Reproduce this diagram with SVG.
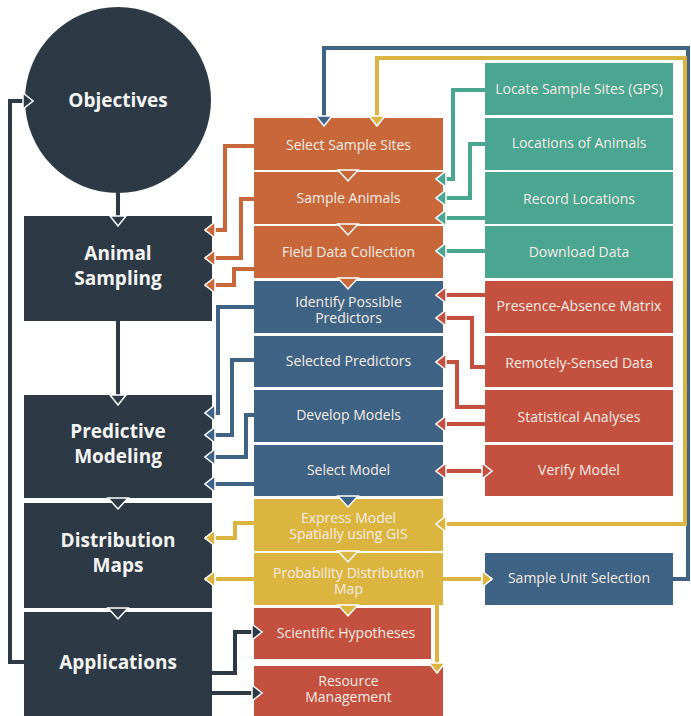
<svg xmlns="http://www.w3.org/2000/svg" width="691" height="716" viewBox="0 0 691 716">
<style>
.dk{fill:#2d3a45}.or{fill:#c8683a}.bl{fill:#3f6385}.gr{fill:#4aa591}.rd{fill:#c4503f}.ye{fill:#dcb540}
.big{font-family:"Open Sans","Noto Sans",sans-serif;font-weight:bold;font-size:19px;fill:#f4f4f2;text-anchor:middle}
.lb{font-family:"Open Sans","Noto Sans",sans-serif;font-size:14px;fill:#f4ede4;text-anchor:middle}
.c{fill:none;stroke-width:4}
.cdk{stroke:#2d3a45}.cor{stroke:#c8683a}.cbl{stroke:#3f6385}.cgr{stroke:#4aa591}.crd{stroke:#c4503f}.cye{stroke:#dcb540}
.chev{stroke:#fff;stroke-width:1.5;stroke-linejoin:miter}
</style>
<defs>
<marker id="mdk" viewBox="0 0 12 18" refX="11" refY="9" markerWidth="12" markerHeight="18" markerUnits="userSpaceOnUse" orient="auto-start-reverse"><path d="M1,1 L11,9 L1,17 Z" fill="#2d3a45" stroke="#fff" stroke-width="1.5"/></marker>
<marker id="mor" viewBox="0 0 12 18" refX="11" refY="9" markerWidth="12" markerHeight="18" markerUnits="userSpaceOnUse" orient="auto-start-reverse"><path d="M1,1 L11,9 L1,17 Z" fill="#c8683a" stroke="#fff" stroke-width="1.5"/></marker>
<marker id="mbl" viewBox="0 0 12 18" refX="11" refY="9" markerWidth="12" markerHeight="18" markerUnits="userSpaceOnUse" orient="auto-start-reverse"><path d="M1,1 L11,9 L1,17 Z" fill="#3f6385" stroke="#fff" stroke-width="1.5"/></marker>
<marker id="mgr" viewBox="0 0 12 18" refX="11" refY="9" markerWidth="12" markerHeight="18" markerUnits="userSpaceOnUse" orient="auto-start-reverse"><path d="M1,1 L11,9 L1,17 Z" fill="#4aa591" stroke="#fff" stroke-width="1.5"/></marker>
<marker id="mrd" viewBox="0 0 12 18" refX="11" refY="9" markerWidth="12" markerHeight="18" markerUnits="userSpaceOnUse" orient="auto-start-reverse"><path d="M1,1 L11,9 L1,17 Z" fill="#c4503f" stroke="#fff" stroke-width="1.5"/></marker>
<marker id="mye" viewBox="0 0 12 18" refX="11" refY="9" markerWidth="12" markerHeight="18" markerUnits="userSpaceOnUse" orient="auto-start-reverse"><path d="M1,1 L11,9 L1,17 Z" fill="#dcb540" stroke="#fff" stroke-width="1.5"/></marker>
</defs>
<rect width="691" height="716" fill="#fff"/>

<!-- left column -->
<g id="objectives"><circle class="dk" cx="118" cy="100" r="93"/><text class="big" x="118" y="107">Objectives</text></g>
<g id="animal-sampling"><rect class="dk" x="24" y="216" width="188" height="105"/><text class="big" x="118" y="260">Animal<tspan x="118" y="285">Sampling</tspan></text></g>
<g id="predictive-modeling"><rect class="dk" x="24" y="395" width="188" height="103"/><text class="big" x="118" y="438">Predictive<tspan x="118" y="463">Modeling</tspan></text></g>
<g id="distribution-maps"><rect class="dk" x="24" y="503" width="188" height="105"/><text class="big" x="118" y="547">Distribution<tspan x="118" y="572">Maps</tspan></text></g>
<g id="applications"><rect class="dk" x="24" y="612" width="188" height="104"/><text class="big" x="118" y="669">Applications</text></g>

<!-- middle column -->
<g id="select-sample-sites"><rect class="or" x="254" y="118" width="189" height="52"/><text class="lb" x="348.5" y="150">Select Sample Sites</text></g>
<g id="sample-animals"><rect class="or" x="254" y="172" width="189" height="52"/><text class="lb" x="348.5" y="203">Sample Animals</text></g>
<g id="field-data-collection"><rect class="or" x="254" y="226" width="189" height="52"/><text class="lb" x="348.5" y="257">Field Data Collection</text></g>
<g id="identify-possible-predictors"><rect class="bl" x="254" y="281" width="189" height="52"/><text class="lb" x="348.5" y="307">Identify Possible<tspan x="348.5" y="323">Predictors</tspan></text></g>
<g id="selected-predictors"><rect class="bl" x="254" y="336" width="189" height="51"/><text class="lb" x="348.5" y="366">Selected Predictors</text></g>
<g id="develop-models"><rect class="bl" x="254" y="390" width="189" height="52"/><text class="lb" x="348.5" y="420">Develop Models</text></g>
<g id="select-model"><rect class="bl" x="254" y="445" width="189" height="51"/><text class="lb" x="348.5" y="475">Select Model</text></g>
<g id="express-model"><rect class="ye" x="254" y="499" width="189" height="52"/><text class="lb" x="348.5" y="523">Express Model<tspan x="348.5" y="539">Spatially using GIS</tspan></text></g>
<g id="probability-distribution-map"><rect class="ye" x="254" y="553" width="189" height="52"/><text class="lb" x="348.5" y="578">Probability Distribution<tspan x="348.5" y="594">Map</tspan></text></g>
<g id="scientific-hypotheses"><rect class="rd" x="254" y="608" width="177" height="51"/><text class="lb" x="346" y="638">Scientific Hypotheses</text></g>
<g id="resource-management"><rect class="rd" x="254" y="666" width="189" height="50"/><text class="lb" x="348.5" y="686">Resource<tspan x="348.5" y="702">Management</tspan></text></g>

<!-- right column -->
<g id="locate-sample-sites"><rect class="gr" x="485" y="63" width="188" height="52"/><text class="lb" x="579" y="94">Locate Sample Sites (GPS)</text></g>
<g id="locations-of-animals"><rect class="gr" x="485" y="118" width="188" height="52"/><text class="lb" x="579" y="148">Locations of Animals</text></g>
<g id="record-locations"><rect class="gr" x="485" y="172" width="188" height="52"/><text class="lb" x="579" y="204">Record Locations</text></g>
<g id="download-data"><rect class="gr" x="485" y="226" width="188" height="52"/><text class="lb" x="579" y="257">Download Data</text></g>
<g id="presence-absence-matrix"><rect class="rd" x="485" y="281" width="188" height="52"/><text class="lb" x="579" y="311">Presence-Absence Matrix</text></g>
<g id="remotely-sensed-data"><rect class="rd" x="485" y="336" width="188" height="51"/><text class="lb" x="579" y="368">Remotely-Sensed Data</text></g>
<g id="statistical-analyses"><rect class="rd" x="485" y="390" width="188" height="52"/><text class="lb" x="579" y="422">Statistical Analyses</text></g>
<g id="verify-model"><rect class="rd" x="485" y="445" width="188" height="51"/><text class="lb" x="579" y="475">Verify Model</text></g>
<g id="sample-unit-selection"><rect class="bl" x="485" y="553" width="188" height="52"/><text class="lb" x="579" y="583">Sample Unit Selection</text></g>

<!-- connectors -->
<g id="connectors">
<path class="c cdk" d="M118,193 V226" marker-end="url(#mdk)"/>
<path class="c cdk" d="M118,321 V405" marker-end="url(#mdk)"/>
<path class="c cdk" d="M24,662 H10 V101 H33" marker-end="url(#mdk)"/>
<path class="c cdk" d="M212,673 H235 V632 H262" marker-end="url(#mdk)"/>
<path class="c cdk" d="M212,693 H262" marker-end="url(#mdk)"/>
<polygon class="dk chev" points="108,498 128,498 118,509"/>
<polygon class="dk chev" points="108,608 128,608 118,619"/>

<path class="c cor" d="M254,146 H225 V230 H205" marker-end="url(#mor)"/>
<path class="c cor" d="M254,199 H241 V258 H205" marker-end="url(#mor)"/>
<path class="c cor" d="M254,269 H234 V285 H205" marker-end="url(#mor)"/>

<path class="c cgr" d="M485,90 H453 V179 H436" marker-end="url(#mgr)"/>
<path class="c cgr" d="M485,144 H470 V198 H436" marker-end="url(#mgr)"/>
<path class="c cgr" d="M485,218 H436" marker-end="url(#mgr)"/>
<path class="c cgr" d="M485,251 H436" marker-end="url(#mgr)"/>

<path class="c crd" d="M485,295 H436" marker-end="url(#mrd)"/>
<path class="c crd" d="M485,367 H472 V318 H436" marker-end="url(#mrd)"/>
<path class="c crd" d="M485,407 H457 V362 H436" marker-end="url(#mrd)"/>
<path class="c crd" d="M485,424 H436" marker-end="url(#mrd)"/>
<path class="c crd" d="M436,471 H492" marker-start="url(#mrd)" marker-end="url(#mrd)"/>

<path class="c cbl" d="M254,307 H218 V413 H205" marker-end="url(#mbl)"/>
<path class="c cbl" d="M254,360 H232 V435 H205" marker-end="url(#mbl)"/>
<path class="c cbl" d="M254,415 H246 V457 H205" marker-end="url(#mbl)"/>
<path class="c cbl" d="M254,484 H205" marker-end="url(#mbl)"/>
<path class="c cbl" d="M673,579 H688 V48 H324 V126" marker-end="url(#mbl)"/>

<path class="c cye" d="M254,523 H235 V538 H205" marker-end="url(#mye)"/>
<path class="c cye" d="M254,579 H205" marker-end="url(#mye)"/>
<path class="c cye" d="M443,579 H492" marker-end="url(#mye)"/>
<path class="c cye" d="M437,605 V673" marker-end="url(#mye)"/>
<path class="c cye" d="M377,126 V58 H685 V524 H436" marker-start="url(#mye)" marker-end="url(#mye)"/>

<polygon class="or chev" points="338,170 358,170 348,181"/>
<polygon class="or chev" points="338,224 358,224 348,235"/>
<polygon class="or chev" points="338,278 358,278 348,289"/>
<polygon class="bl chev" points="338,496 358,496 348,507"/>
<polygon class="ye chev" points="338,551 358,551 348,562"/>
<polygon class="ye chev" points="338,605 358,605 348,616"/>
</g>
</svg>
